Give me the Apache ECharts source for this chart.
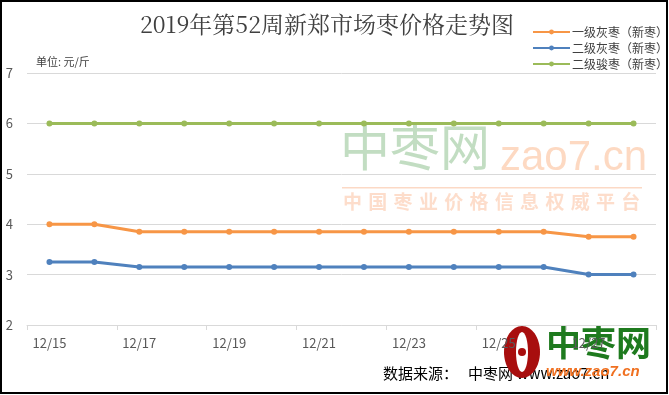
<!DOCTYPE html>
<html><head><meta charset="utf-8">
<script src="https://cdn.jsdelivr.net/npm/echarts@6/dist/echarts.min.js"></script>
<style>html,body{margin:0;padding:0;background:#fff}#c{width:669px;height:395px}</style>
</head><body><div id="c"></div>
<script>
const categories = ['12/15','12/16','12/17','12/18','12/19','12/20','12/21','12/22','12/23','12/24','12/25','12/26','12/27','12/28'];
const seriesNames = ['一级灰枣（新枣）','二级灰枣（新枣）','二级骏枣（新枣）'];
const grade1Gray = [4.0,4.0,3.85,3.85,3.85,3.85,3.85,3.85,3.85,3.85,3.85,3.85,3.75,3.75];
const grade2Gray = [3.25,3.25,3.15,3.15,3.15,3.15,3.15,3.15,3.15,3.15,3.15,3.15,3.0,3.0];
const grade2Jun = [6,6,6,6,6,6,6,6,6,6,6,6,6,6];
const colors = ['#F79646','#4F81BD','#9BBB59'];
const font = '"Noto Sans CJK SC", sans-serif';
const slogan = '中国枣业价格信息权威平台';

const chart = echarts.init(document.getElementById('c'));
function mk(name, data, color){
  return {name, type:'line', data, symbol:'circle', symbolSize:6,
    itemStyle:{color}, lineStyle:{color, width:3}};
}
const sloganChars = slogan.split('').map((ch, i) => ({
  type:'text', z:-1, left:343 + i*25.3, top:192,
  style:{text:ch, fontFamily:font, fontSize:19, fontWeight:'bold', fill:'rgba(250,180,140,0.45)'}
}));
chart.setOption({
  animation:false,
  title:{text:'2019年第52周新郑市场枣价格走势图', left:322, textAlign:'center', top:8,
    textStyle:{fontFamily:'"Noto Serif CJK SC","Liberation Serif","DejaVu Serif",serif', fontSize:23, fontWeight:'normal', color:'#404040'}},
  legend:{orient:'vertical', right:0, top:21, padding:[5,1,5,5], itemWidth:37, itemHeight:6, itemGap:4,
    textStyle:{fontFamily:font, fontSize:12, color:'#404040', padding:[0,0,0,-3]}, data:seriesNames},
  grid:{left:27, right:13, top:73, bottom:70},
  xAxis:{type:'category', data:categories, boundaryGap:true,
    axisLine:{lineStyle:{color:'#D9D9D9', width:1}},
    axisTick:{show:true, interval:1, length:5, lineStyle:{color:'#D9D9D9'}},
    axisLabel:{interval:1, color:'#595959', fontFamily:font, fontSize:13, margin:12}},
  yAxis:{type:'value', min:2, max:7, interval:1,
    axisLine:{show:false}, axisTick:{show:false},
    splitLine:{lineStyle:{color:'#D9D9D9'}},
    axisLabel:{color:'#595959', fontFamily:font, fontSize:13, margin:14}},
  graphic:[
    {type:'rect', z:-1, shape:{x:1,y:1,width:666,height:392}, style:{fill:'none', stroke:'#000', lineWidth:2}},
    {type:'text', left:36, top:56, style:{text:'单位: 元/斤', fontFamily:font, fontSize:11, fill:'#404040'}},
    {type:'text', z:-1, left:340, top:122, style:{text:'中枣网', fontFamily:font, fontSize:50, fill:'rgba(120,180,120,0.45)'}},
    {type:'text', z:-1, left:500, top:137, style:{text:'zao7.cn', fontFamily:'"Liberation Sans",sans-serif', fontSize:42, fill:'rgba(250,170,120,0.45)'}},
    {type:'rect', z:-1, shape:{x:342,y:187,width:300,height:1.5}, style:{fill:'rgba(250,180,140,0.5)'}},
    ...sloganChars,
    {type:'text', left:383, top:366, style:{text:'数据来源：   中枣网 www.zao7.cn', fontFamily:font, fontSize:15, fill:'#000'}},
    {type:'ellipse', shape:{cx:522, cy:352, rx:18, ry:26}, style:{fill:'#A80E0E'}},
    {type:'ellipse', shape:{cx:522, cy:352, rx:6, ry:20}, style:{fill:'#fff'}},
    {type:'circle', shape:{cx:522, cy:352, r:4}, style:{fill:'#A80E0E'}},
    {type:'text', left:546, top:325, style:{text:'中枣网', fontFamily:font, fontSize:35, fontWeight:'bold', fill:'#1E7A1E'}},
    {type:'text', left:546, top:364, style:{text:'www.zao7.cn', fontFamily:'"Liberation Sans",sans-serif', fontSize:15, fontStyle:'italic', fontWeight:'bold', fill:'#F07020'}}
  ],
  series:[mk(seriesNames[0], grade1Gray, colors[0]), mk(seriesNames[1], grade2Gray, colors[1]), mk(seriesNames[2], grade2Jun, colors[2])]
});
</script></body></html>
